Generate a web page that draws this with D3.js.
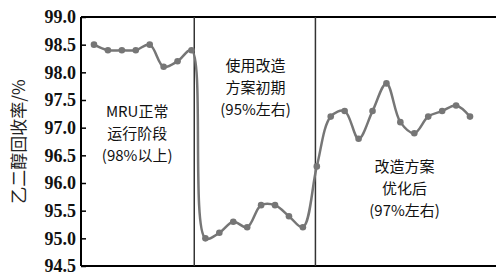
<!DOCTYPE html>
<html>
<head>
<meta charset="utf-8">
<script src="https://cdn.jsdelivr.net/npm/d3@7"></script>
<style>
body { margin: 0; background: #fff; }
</style>
</head>
<body>
<div id="chart"></div>
<script>
// recovery rate per sample, three stages
const stage1 = [98.5, 98.4, 98.4, 98.4, 98.5, 98.1, 98.2, 98.4];
const stage2 = [95.0, 95.1, 95.3, 95.2, 95.6, 95.6, 95.4, 95.2];
const stage3 = [96.3, 97.2, 97.3, 96.8, 97.3, 97.8, 97.1, 96.9, 97.2, 97.3, 97.4, 97.2];
const yTicks = [94.5, 95.0, 95.5, 96.0, 96.5, 97.0, 97.5, 98.0, 98.5, 99.0];
const dividers = [7.2, 15.9];
const notes = [
    { x: 3.1, lines: ["MRU正常", "运行阶段", "(98%以上)"], top: 97.2 },
    { x: 11.6, lines: ["使用改造", "方案初期", "(95%左右)"], top: 98.03 },
    { x: 22.3, lines: ["改造方案", "优化后", "(97%左右)"], top: 96.2 }
];

const values = stage1.concat(stage2, stage3);

const width = 496, height = 273;
const mLeft = 81, mTop = 17, mBottom = 266, mRight = 496;

const svg = d3.select("#chart")
    .append("svg")
    .attr("width", width)
    .attr("height", height);

const x = d3.scaleLinear()
    .domain([0, values.length - 1])
    .range([94, 470]);

const y = d3.scaleLinear()
    .domain([94.5, 99.0])
    .range([mBottom, mTop]);

// frame
svg.append("line")
    .attr("x1", mLeft).attr("x2", mRight)
    .attr("y1", mTop).attr("y2", mTop)
    .attr("stroke", "#000").attr("stroke-width", 2);

svg.append("line")
    .attr("x1", mLeft).attr("x2", mRight)
    .attr("y1", mBottom).attr("y2", mBottom)
    .attr("stroke", "#000").attr("stroke-width", 2);

const yAxis = svg.append("g")
    .attr("transform", `translate(${mLeft},0)`)
    .call(d3.axisRight(y).tickValues(yTicks).tickSize(5).tickFormat(d3.format(".1f")));

yAxis.select(".domain").attr("stroke-width", 2).attr("d", `M0,${mTop}V${mBottom}`);
yAxis.selectAll(".tick line").attr("stroke-width", 1.5);
yAxis.selectAll(".tick text")
    .attr("x", -5)
    .attr("text-anchor", "end")
    .attr("font-family", "'Liberation Serif', 'DejaVu Serif', serif")
    .attr("font-weight", "bold")
    .attr("font-size", 18)
    .attr("fill", "#111");

svg.append("text")
    .attr("transform", `translate(25,${(mTop + mBottom) / 2}) rotate(-90)`)
    .attr("text-anchor", "middle")
    .attr("font-family", "'Noto Sans CJK SC', sans-serif")
    .attr("font-size", 17)
    .attr("fill", "#222")
    .text("乙二醇回收率/%");

// stage dividers
svg.selectAll(".divider")
    .data(dividers)
    .enter()
    .append("line")
    .attr("class", "divider")
    .attr("x1", (d) => x(d)).attr("x2", (d) => x(d))
    .attr("y1", mTop).attr("y2", mBottom)
    .attr("stroke", "#333")
    .attr("stroke-width", 1.5);

const line = d3.line()
    .x((d, i) => x(i))
    .y((d) => y(d))
    .curve(d3.curveCatmullRom.alpha(0.5));

svg.append("path")
    .datum(values)
    .attr("d", line)
    .attr("fill", "none")
    .attr("stroke", "#767676")
    .attr("stroke-width", 2.5);

svg.selectAll(".dot")
    .data(values)
    .enter()
    .append("circle")
    .attr("class", "dot")
    .attr("cx", (d, i) => x(i))
    .attr("cy", (d) => y(d))
    .attr("r", 3.3)
    .attr("fill", "#767676");

// stage notes, one text per row
notes.forEach((n) => {
    n.lines.forEach((s, i) => {
        svg.append("text")
            .attr("x", x(n.x))
            .attr("y", y(n.top) + i * 22)
            .attr("text-anchor", "middle")
            .attr("font-family", "'Noto Sans CJK SC', sans-serif")
            .attr("font-size", 15)
            .attr("fill", "#111")
            .text(s);
    });
});
</script>
</body>
</html>
